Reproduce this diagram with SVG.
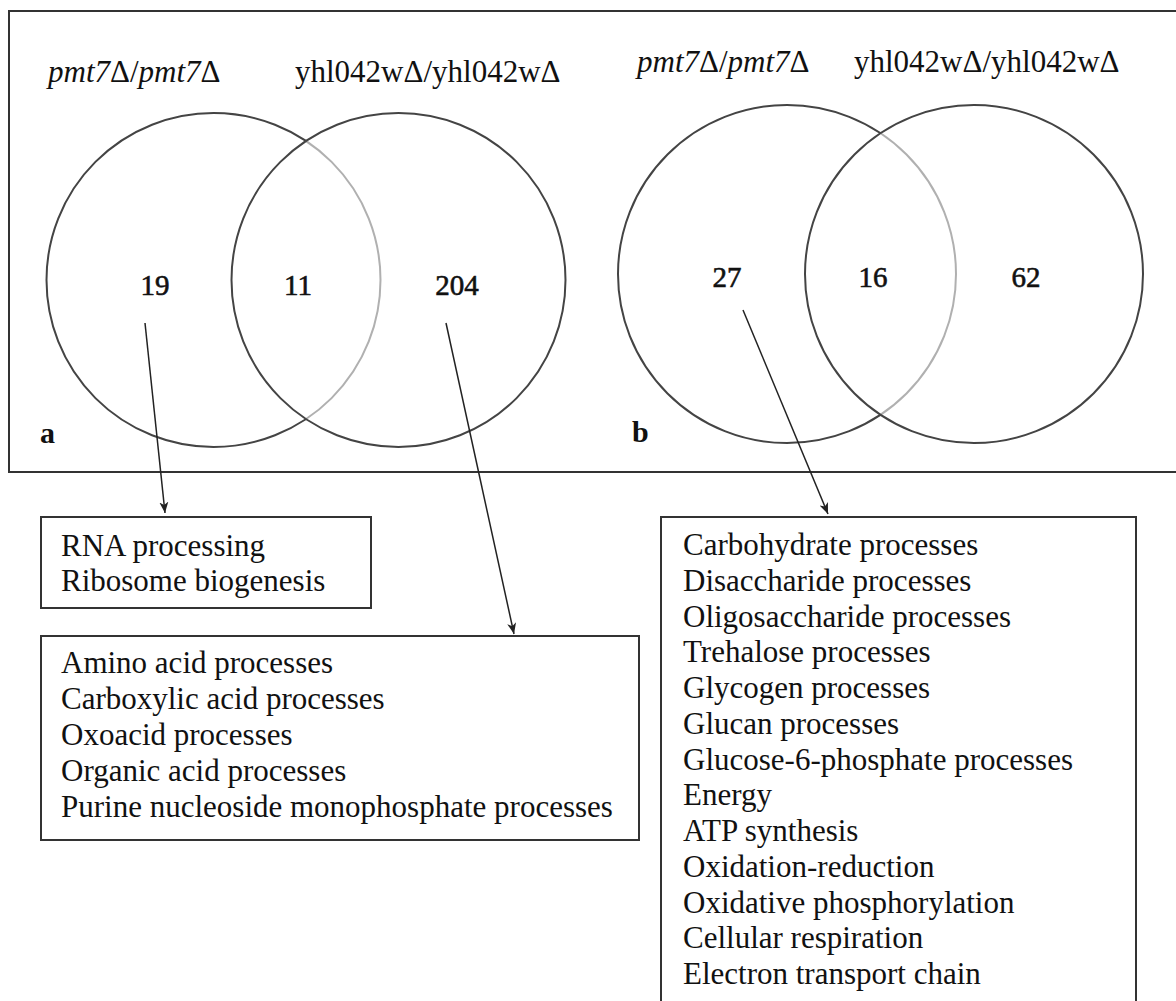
<svg xmlns="http://www.w3.org/2000/svg" width="1176" height="1001" viewBox="0 0 1176 1001">
  <style>
    text { font-family: "Liberation Serif", "Times New Roman", serif; font-size: 31px; fill: #111; }
    .it { font-style: italic; }
    .num { font-size: 29px; text-anchor: middle; stroke: #111; stroke-width: 0.6; }
    .tag { font-weight: bold; font-size: 30px; }
    .frame { fill: none; stroke: #333; stroke-width: 2; }
    .setL { fill: none; stroke: #444; stroke-width: 2; }
    .setR { fill: #fff; fill-opacity: 0.58; stroke: #444; stroke-width: 2; }
    .box { fill: #fff; stroke: #333; stroke-width: 2; }
    .conn { fill: none; stroke: #222; stroke-width: 1.5; marker-end: url(#tip); }
  </style>
  <defs>
    <marker id="tip" markerUnits="userSpaceOnUse" markerWidth="12" markerHeight="10" refX="11" refY="5" orient="auto">
      <path d="M0,0.5 L11,5 L0,9.5 L3,5 Z" fill="#222"/>
    </marker>
  </defs>

  <rect width="1176" height="1001" fill="#fff"/>

  <!-- outer frame holding both Venn panels (runs past the right edge) -->
  <rect id="frame" class="frame" x="9" y="11" width="1200" height="461"/>

  <!-- panel a -->
  <g id="venn-a">
    <circle id="a-left" class="setL" cx="213.5" cy="280" r="167"/>
    <circle id="a-right" class="setR" cx="398.5" cy="280" r="167"/>
    <text x="48" y="82"><tspan class="it">pmt7</tspan>Δ/<tspan class="it">pmt7</tspan>Δ</text>
    <text x="295" y="82">yhl042wΔ/yhl042wΔ</text>
    <text class="num" x="155" y="295">19</text>
    <text class="num" x="298" y="295">11</text>
    <text class="num" x="457" y="295">204</text>
    <text class="tag" x="40" y="443">a</text>
  </g>

  <!-- panel b -->
  <g id="venn-b">
    <circle id="b-left" class="setL" cx="787" cy="274" r="169"/>
    <circle id="b-right" class="setR" cx="974" cy="274" r="169"/>
    <text x="637" y="72"><tspan class="it">pmt7</tspan>Δ/<tspan class="it">pmt7</tspan>Δ</text>
    <text x="854" y="72">yhl042wΔ/yhl042wΔ</text>
    <text class="num" x="727" y="287">27</text>
    <text class="num" x="873" y="287">16</text>
    <text class="num" x="1026" y="287">62</text>
    <text class="tag" x="632" y="442">b</text>
  </g>

  <!-- GO term boxes -->
  <g id="box-a-only">
    <rect class="box" x="41" y="517" width="330" height="91"/>
    <text x="61" y="556">RNA processing</text>
    <text x="61" y="591">Ribosome biogenesis</text>
  </g>

  <g id="box-yhl-only">
    <rect class="box" x="41" y="636" width="598" height="204"/>
    <text x="61" y="673">Amino acid processes</text>
    <text x="61" y="709">Carboxylic acid processes</text>
    <text x="61" y="745">Oxoacid processes</text>
    <text x="61" y="781">Organic acid processes</text>
    <text x="61" y="817">Purine nucleoside monophosphate processes</text>
  </g>

  <g id="box-b-pmt">
    <rect class="box" x="661" y="517" width="475" height="500"/>
    <text x="683" y="555">Carbohydrate processes</text>
    <text x="683" y="591">Disaccharide processes</text>
    <text x="683" y="627">Oligosaccharide processes</text>
    <text x="683" y="662">Trehalose processes</text>
    <text x="683" y="698">Glycogen processes</text>
    <text x="683" y="734">Glucan processes</text>
    <text x="683" y="770">Glucose-6-phosphate processes</text>
    <text x="683" y="805">Energy</text>
    <text x="683" y="841">ATP synthesis</text>
    <text x="683" y="877">Oxidation-reduction</text>
    <text x="683" y="913">Oxidative phosphorylation</text>
    <text x="683" y="948">Cellular respiration</text>
    <text x="683" y="984">Electron transport chain</text>
  </g>

  <!-- connectors from Venn regions to their term lists -->
  <g id="connectors">
    <line class="conn" x1="145" y1="323" x2="165" y2="513"/>
    <line class="conn" x1="446" y1="323" x2="514" y2="634"/>
    <line class="conn" x1="743" y1="310" x2="828" y2="514"/>
  </g>
</svg>
